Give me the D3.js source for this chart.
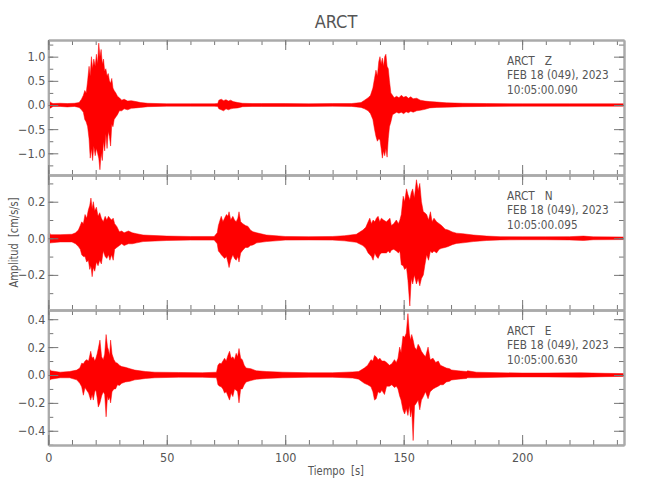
<!DOCTYPE html>
<html>
<head>
<meta charset="utf-8">
<script src="https://cdn.jsdelivr.net/npm/d3@7"></script>
<style>
  body { margin: 0; background: #fff; }
  text { font-family: "Liberation Sans Narrow", "DejaVu Sans Condensed", "DejaVu Sans", sans-serif; font-stretch: condensed; fill: #555; }
</style>
</head>
<body>
<div id="chart"></div>
<script>
// envelope of each trace (max / min per time step)
const zTime = [0,0.3,1,2,5,8,11,13,14,14.8,15.4,16,16.6,17.2,17.7,18.2,18.7,19.2,19.8,20.3,20.8,21.3,21.8,22.3,22.8,23.3,23.8,24.3,24.8,25.3,25.8,26.3,26.8,27.3,27.8,28.5,29.2,30,31,32,33.5,35,37,39,42,50,60,70,71.5,72,73,74,75,76,77,78,80,82,86,90,100,110,120,128,132,133.5,135,136,137,137.7,138.3,138.9,139.5,140,140.5,141,141.5,142,142.5,143,143.5,144,144.6,145.3,146,147,148,149,150,151,152,153,154,155.5,157,159,161,164,168,175,185,200,220,243];
const zHi   = [0.03,0.1,0.05,0.03,0.035,0.03,0.035,0.05,0.12,0.2,0.3,0.25,0.5,0.8,0.6,1.0,0.75,0.95,0.8,1.05,0.85,1.28,1.0,1.15,0.85,0.95,0.7,0.75,0.6,0.65,0.5,0.45,0.55,0.35,0.3,0.25,0.18,0.15,0.1,0.12,0.08,0.09,0.07,0.05,0.035,0.025,0.025,0.025,0.03,0.1,0.12,0.09,0.11,0.08,0.1,0.07,0.05,0.035,0.03,0.03,0.03,0.025,0.03,0.03,0.05,0.1,0.15,0.2,0.35,0.55,0.72,0.6,0.9,1.0,0.85,0.97,0.8,1.0,1.05,0.8,0.75,0.5,0.25,0.2,0.15,0.18,0.15,0.2,0.16,0.18,0.14,0.17,0.13,0.14,0.1,0.08,0.07,0.06,0.045,0.035,0.03,0.025,0.025,0.025];
const zLo   = [-0.03,-0.08,-0.06,-0.03,-0.03,-0.04,-0.03,-0.05,-0.1,-0.15,-0.3,-0.35,-0.45,-0.7,-1.1,-0.9,-1.15,-0.85,-1.05,-0.9,-1.0,-1.1,-1.34,-1.0,-1.15,-0.75,-0.95,-0.6,-0.9,-0.55,-0.65,-0.85,-0.4,-0.45,-0.3,-0.25,-0.2,-0.12,-0.12,-0.08,-0.1,-0.07,-0.06,-0.05,-0.035,-0.025,-0.025,-0.025,-0.03,-0.08,-0.1,-0.12,-0.08,-0.1,-0.08,-0.07,-0.06,-0.035,-0.03,-0.03,-0.03,-0.03,-0.025,-0.03,-0.05,-0.08,-0.12,-0.18,-0.3,-0.5,-0.65,-0.75,-0.7,-0.72,-0.9,-1.1,-0.95,-1.05,-0.9,-1.08,-0.7,-0.45,-0.35,-0.2,-0.18,-0.15,-0.17,-0.15,-0.18,-0.14,-0.16,-0.13,-0.15,-0.12,-0.11,-0.09,-0.06,-0.05,-0.045,-0.035,-0.03,-0.025,-0.025,-0.025];

const nTime = [0,0.3,1,5,10,11.5,12.7,13.5,14.1,14.8,15.5,16.2,16.9,17.5,18,18.5,19,19.6,20.3,21,21.7,22.4,23.2,24,24.7,25.4,26,26.7,27.4,28,28.9,30,31,32,33.8,35.5,37.3,40,50,60,70,71.3,71.8,72.5,73,73.7,74.4,75.2,75.8,76.3,77,77.9,78.6,79.3,80,80.5,81.2,82.1,83.2,84.3,85.3,86.4,88,92,100,110,120,125,130,132.8,134,135,135.7,136.4,137.1,137.8,138.5,139.2,139.9,140.6,141.5,142.7,143.5,144.2,144.8,145.8,146.9,147.8,148.4,149,149.8,150.4,151.2,151.8,152.6,153.2,153.8,154.5,155.4,156.1,156.8,157.5,158.3,158.9,159.7,160.5,161.3,162,162.8,163.9,165,166,167.5,168.8,170.5,172.3,175,179.4,185,190.7,200,210,220,225.9,230,243];
const nHi   = [0.02,0.035,0.02,0.02,0.022,0.03,0.045,0.07,0.09,0.08,0.13,0.11,0.155,0.18,0.22,0.16,0.2,0.15,0.17,0.12,0.14,0.11,0.09,0.12,0.1,0.12,0.11,0.1,0.11,0.08,0.065,0.036,0.04,0.03,0.04,0.03,0.025,0.018,0.012,0.01,0.01,0.03,0.07,0.1,0.12,0.09,0.11,0.13,0.12,0.145,0.1,0.12,0.1,0.09,0.11,0.145,0.09,0.08,0.07,0.065,0.045,0.036,0.03,0.018,0.01,0.009,0.01,0.014,0.022,0.045,0.06,0.09,0.11,0.08,0.1,0.09,0.11,0.12,0.09,0.11,0.1,0.09,0.1,0.11,0.07,0.08,0.1,0.08,0.1,0.13,0.23,0.2,0.27,0.24,0.21,0.25,0.27,0.22,0.32,0.26,0.3,0.2,0.145,0.14,0.13,0.1,0.145,0.09,0.11,0.09,0.08,0.07,0.05,0.045,0.035,0.028,0.025,0.018,0.012,0.009,0.008,0.008,0.009,0.012,0.008,0.007];
const nLo   = [-0.02,-0.03,-0.025,-0.02,-0.02,-0.03,-0.045,-0.06,-0.09,-0.1,-0.1,-0.13,-0.12,-0.17,-0.15,-0.21,-0.16,-0.18,-0.13,-0.15,-0.12,-0.14,-0.07,-0.1,-0.11,-0.09,-0.12,-0.09,-0.12,-0.06,-0.05,-0.04,-0.03,-0.04,-0.03,-0.03,-0.025,-0.018,-0.012,-0.01,-0.01,-0.03,-0.07,-0.08,-0.09,-0.1,-0.11,-0.1,-0.13,-0.16,-0.12,-0.09,-0.11,-0.12,-0.1,-0.13,-0.08,-0.065,-0.05,-0.05,-0.04,-0.036,-0.025,-0.018,-0.01,-0.009,-0.01,-0.014,-0.022,-0.04,-0.055,-0.08,-0.09,-0.1,-0.12,-0.08,-0.1,-0.11,-0.09,-0.08,-0.08,-0.08,-0.07,-0.08,-0.065,-0.06,-0.07,-0.08,-0.07,-0.145,-0.15,-0.17,-0.16,-0.23,-0.37,-0.22,-0.25,-0.2,-0.25,-0.22,-0.26,-0.22,-0.2,-0.15,-0.09,-0.12,-0.07,-0.08,-0.07,-0.08,-0.06,-0.055,-0.05,-0.045,-0.035,-0.028,-0.025,-0.018,-0.012,-0.009,-0.008,-0.008,-0.009,-0.012,-0.008,-0.007];

const eTime = [0,0.3,1,5,9,12,13.3,14.1,14.8,15.5,16.2,17,17.9,18.5,19,19.6,20.1,20.6,21.1,21.8,22.5,23.2,23.8,24.4,25,25.4,25.9,26.3,26.9,27.7,28.4,29.2,30,31,32.5,34.5,36.5,38.7,41,45,55,65,71,71.6,72.3,73,73.7,74.4,75.1,75.8,76.5,77.2,77.9,78.6,79.3,79.9,80.5,81.2,81.9,82.7,83.5,85.5,87.8,92,99,110,120,128.5,131,133.4,134.8,136.2,137,137.7,138.4,139.2,140,140.8,141.9,142.8,144,145,146.1,146.9,147.6,148.3,148.9,149.7,150.4,151.1,151.8,152.4,152.9,153.4,154,154.6,155.4,156.1,156.8,157.5,158.3,159.2,160.3,161.2,162.4,163.5,164.6,165.5,166.7,168,169.4,170.2,173,176.5,177,180.7,190.7,200,210,224.5,235,243];
const eHi   = [0.025,0.05,0.03,0.02,0.025,0.035,0.05,0.085,0.08,0.1,0.11,0.1,0.17,0.12,0.13,0.1,0.12,0.15,0.19,0.25,0.13,0.11,0.15,0.29,0.2,0.18,0.14,0.25,0.15,0.11,0.09,0.085,0.07,0.06,0.055,0.045,0.035,0.03,0.025,0.02,0.018,0.016,0.02,0.07,0.085,0.08,0.1,0.12,0.1,0.14,0.17,0.12,0.13,0.11,0.155,0.13,0.19,0.12,0.11,0.07,0.05,0.045,0.03,0.025,0.02,0.016,0.016,0.022,0.025,0.05,0.07,0.11,0.1,0.14,0.13,0.11,0.12,0.1,0.1,0.09,0.07,0.08,0.11,0.09,0.12,0.2,0.16,0.28,0.27,0.3,0.44,0.3,0.25,0.29,0.25,0.2,0.18,0.22,0.2,0.17,0.15,0.13,0.2,0.11,0.12,0.09,0.1,0.07,0.06,0.05,0.045,0.036,0.03,0.025,0.03,0.02,0.016,0.014,0.014,0.016,0.012,0.01];
const eLo   = [-0.025,-0.045,-0.03,-0.02,-0.02,-0.035,-0.06,-0.085,-0.145,-0.09,-0.11,-0.13,-0.18,-0.14,-0.18,-0.12,-0.11,-0.16,-0.23,-0.2,-0.15,-0.12,-0.14,-0.3,-0.15,-0.18,-0.16,-0.2,-0.12,-0.1,-0.1,-0.07,-0.075,-0.06,-0.05,-0.045,-0.035,-0.03,-0.025,-0.02,-0.016,-0.016,-0.02,-0.07,-0.08,-0.085,-0.1,-0.13,-0.12,-0.15,-0.18,-0.13,-0.155,-0.1,-0.11,-0.12,-0.2,-0.1,-0.1,-0.07,-0.05,-0.04,-0.03,-0.025,-0.02,-0.016,-0.016,-0.022,-0.03,-0.06,-0.07,-0.085,-0.12,-0.18,-0.17,-0.12,-0.13,-0.11,-0.14,-0.08,-0.08,-0.07,-0.09,-0.08,-0.1,-0.15,-0.18,-0.25,-0.28,-0.24,-0.29,-0.22,-0.3,-0.25,-0.47,-0.22,-0.2,-0.18,-0.25,-0.18,-0.155,-0.12,-0.17,-0.12,-0.1,-0.09,-0.08,-0.07,-0.07,-0.05,-0.045,-0.036,-0.03,-0.025,-0.02,-0.02,-0.016,-0.014,-0.014,-0.016,-0.012,-0.01];

const xTicks = [0, 50, 100, 150, 200];
const zTicks = [-1, -0.5, 0, 0.5, 1];
const nTicks = [-0.2, 0, 0.2];
const eTicks = [-0.4, -0.2, 0, 0.2, 0.4];
const stations = ["ARCT   Z", "ARCT   N", "ARCT   E"];
const startTimes = ["10:05:00.090", "10:05:00.095", "10:05:00.630"];
const dateLabel = "FEB 18 (049), 2023";

const W = 650, H = 500;
const left = 48.3, right = 624;

const channels = [
  { t: zTime, hi: zHi, lo: zLo, top: 40,  bottom: 175, dom: [-1.449, 1.345], major: zTicks, step: 0.25 },
  { t: nTime, hi: nHi, lo: nLo, top: 175, bottom: 310, dom: [-0.392, 0.346], major: nTicks, step: 0.1 },
  { t: eTime, hi: eHi, lo: eLo, top: 310, bottom: 445, dom: [-0.502, 0.466], major: eTicks, step: 0.1 }
];

const svg = d3.select("#chart").append("svg")
    .attr("width", W)
    .attr("height", H)
    .style("display", "block");

const x = d3.scaleLinear().domain([0, 243]).range([left, right]);
const xMinor = d3.range(0, 241, 10);

function styleAxis(g) {
  g.select(".domain").attr("stroke", "#aaa").attr("stroke-width", 2);
  g.selectAll(".tick line").attr("stroke", "#777");
  g.selectAll(".tick text").attr("fill", "#555").attr("font-size", 12.5)
    .style("font-family", "\"Liberation Sans Narrow\", \"DejaVu Sans Condensed\", sans-serif");
}

channels.forEach((c, k) => {
  let y = d3.scaleLinear().domain(c.dom).range([c.bottom, c.top]);
  let minor = d3.range(Math.ceil(c.dom[0] / c.step) * c.step, c.dom[1], c.step)
      .map((v) => +v.toFixed(3));

  // waveform envelope
  let idx = d3.range(c.t.length);
  let area = d3.area()
      .x((i) => x(c.t[i]))
      .y0((i) => y(c.lo[i]))
      .y1((i) => y(c.hi[i]));

  svg.append("path")
      .datum(idx)
      .attr("d", area)
      .attr("fill", "#ff0000")
      .attr("stroke", "#ff0000")
      .attr("stroke-width", 0.5);

  // left / right axes
  svg.append("g").attr("transform", `translate(${left},0)`)
      .call(d3.axisLeft(y).tickValues(minor).tickSize(-5).tickSizeOuter(0).tickFormat(""))
      .call(styleAxis);
  svg.append("g").attr("transform", `translate(${left},0)`)
      .call(d3.axisLeft(y).tickValues(c.major).tickSize(-10).tickSizeOuter(0).tickPadding(3).tickFormat(d3.format(".1f")))
      .call(styleAxis);
  svg.append("g").attr("transform", `translate(${right},0)`)
      .call(d3.axisRight(y).tickValues(minor).tickSize(-5).tickSizeOuter(0).tickFormat(""))
      .call(styleAxis);
  svg.append("g").attr("transform", `translate(${right},0)`)
      .call(d3.axisRight(y).tickValues(c.major).tickSize(-10).tickSizeOuter(0).tickFormat(""))
      .call(styleAxis);

  // top / bottom axes
  svg.append("g").attr("transform", `translate(0,${c.top})`)
      .call(d3.axisTop(x).tickValues(xMinor).tickSize(-5).tickSizeOuter(0).tickFormat(""))
      .call(styleAxis);
  svg.append("g").attr("transform", `translate(0,${c.top})`)
      .call(d3.axisTop(x).tickValues(xTicks).tickSize(-10).tickSizeOuter(0).tickFormat(""))
      .call(styleAxis);
  svg.append("g").attr("transform", `translate(0,${c.bottom})`)
      .call(d3.axisBottom(x).tickValues(xMinor).tickSize(-5).tickSizeOuter(0).tickFormat(""))
      .call(styleAxis);
  svg.append("g").attr("transform", `translate(0,${c.bottom})`)
      .call(d3.axisBottom(x).tickValues(xTicks).tickSize(-10).tickSizeOuter(0).tickPadding(8)
        .tickFormat(k == 2 ? d3.format("d") : ""))
      .call(styleAxis);

  // station label, squeezed to the narrow plot font
  let info = svg.append("text")
      .attr("transform", `translate(507,${c.top + 25}) scale(0.9,1)`)
      .attr("font-size", 13)
      .style("white-space", "pre");
  [stations[k], dateLabel, startTimes[k]].forEach((s, j) => {
    info.append("tspan").attr("x", 0).attr("dy", j ? 14.5 : 0).text(s);
  });
});

svg.append("text")
    .attr("x", 336)
    .attr("y", 28)
    .attr("text-anchor", "middle")
    .attr("font-size", 18)
    .text("ARCT");

svg.append("text")
    .attr("transform", "translate(336,475) scale(0.85,1)")
    .attr("text-anchor", "middle")
    .attr("font-size", 13)
    .style("white-space", "pre")
    .text("Tiempo  [s]");

svg.append("text")
    .attr("transform", "translate(18,242.5) rotate(-90) scale(0.84,1)")
    .attr("text-anchor", "middle")
    .attr("font-size", 13)
    .style("white-space", "pre")
    .text("Amplitud  [cm/s/s]");
</script>
</body>
</html>
